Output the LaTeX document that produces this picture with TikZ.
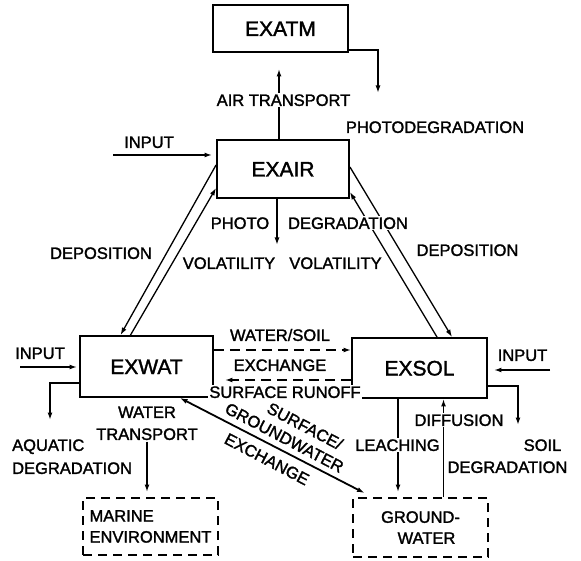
\documentclass[tikz,border=0pt]{standalone}
\usepackage{fontspec}
\setmainfont{Liberation Sans}[FakeBold=1.6]
\usetikzlibrary{arrows.meta}

\begin{document}
\begin{tikzpicture}[x=1pt,y=-1pt,
  box/.style={draw, line width=1.9pt, inner sep=0pt, anchor=center,
    font=\fontsize{21}{24}\selectfont, text height=15pt, text depth=0pt},
  dbox/.style={draw, line width=1.9pt, inner sep=0pt, anchor=center,
    dash pattern=on 9pt off 6pt, font=\fontsize{16.5}{21}\selectfont},
  lbl/.style={font=\fontsize{16.5}{19}\selectfont, inner sep=1.5pt,
    fill=white, text height=11.8pt, text depth=0pt},
  rlbl/.style={font=\fontsize{16.5}{19}\selectfont, inner sep=0pt,
    text height=11.8pt, text depth=0pt, rotate=-27.7},
  tip/.style={-{Latex[length=7.5pt,width=5pt]}},
  flow/.style={tip, line width=1.5pt},
  twin/.style={tip, line width=1.3pt},
  dflow/.style={tip, line width=1.7pt, dash pattern=on 10pt off 6pt},
]
\useasboundingbox (0,0) rectangle (581,561);

% compartments
\node[box, minimum width=135pt, minimum height=47pt] (exatm) at (280.5,28.5) {EXATM};
\node[box, minimum width=132pt, minimum height=58pt] (exair) at (283,169) {EXAIR};
\node[box, minimum width=133pt, minimum height=61pt] (exwat) at (146.5,366.5) {EXWAT};
\node[box, minimum width=135pt, minimum height=60pt] (exsol) at (419.5,368) {EXSOL};
\node[dbox, minimum width=135pt, minimum height=57pt, align=left] (marine) at (150.5,526.5)
  {\fontsize{16.5}{26}\selectfont MARINE\\ENVIRONMENT};
\node[dbox, minimum width=135pt, minimum height=59pt, align=center] (ground) at (420.5,527.5)
  {GROUND-\\\hspace*{12pt}WATER};

% free ends of the flows
\coordinate (pdatm) at (378,93);
\coordinate (inair) at (113,155);
\coordinate (pdair) at (277,245);
\coordinate (inwat) at (20,367);
\coordinate (aqdeg) at (50,420);
\coordinate (insol) at (550,370);
\coordinate (sdeg) at (518,425);

% air and atmosphere
\draw[flow, shorten >=16pt] ([xshift=-4pt]exair.north) -- ([xshift=-4pt]exair.north |- exatm.south);
\draw[flow] ([yshift=3pt]exatm.south east) -| (pdatm);
\draw[flow, shorten >=4pt] (inair) -- (inair -| exair.west);
\draw[flow] (exair.south -| pdair) -- (pdair);

% deposition / volatility pairs
\draw[twin] ([yshift=4pt]exair.west) -- ([xshift=-26pt]exwat.north);
\draw[twin] ([xshift=-16pt]exwat.north) -- ([yshift=-19pt]exair.west);
\draw[twin] ([yshift=2pt]exair.east) -- ([xshift=32.5pt]exsol.north);
\draw[twin] ([xshift=17.5pt]exsol.north) -- ([yshift=-23pt]exair.east);

% water compartment
\draw[flow, shorten >=2pt] (inwat) -- (inwat -| exwat.west);
\draw[flow] ([yshift=-16.5pt]exwat.west) -| (aqdeg);
\draw[dflow] ([yshift=16.5pt]exwat.east) -- ([yshift=16.5pt]exwat.east -| exsol.west);
\draw[dflow, shorten >=11pt] ([yshift=-12pt]exsol.west) -- ([yshift=-12pt]exsol.west -| exwat.east);
\draw[{Latex[length=7.5pt,width=5pt]}-{Latex[length=7.5pt,width=5pt]}, line width=1.8pt]
  ([xshift=33.5pt]exwat.south) -- ([xshift=-56pt,yshift=4pt]ground.north);

% soil compartment
\draw[flow, shorten >=6pt] (insol) -- (insol -| exsol.east);
\draw[flow] ([yshift=-18pt]exsol.east) -| (sdeg);
\draw[flow, shorten >=5pt] ([xshift=-21.5pt]exsol.south) -- ([xshift=-21.5pt]exsol.south |- ground.north);
\draw[flow] ([xshift=23pt]ground.north) -- ([xshift=23pt]ground.north |- exsol.south);

% flow labels
\node[lbl] (airt) at (283.5,100) {AIR TRANSPORT};
\node[lbl] (phatm) at (435,127) {PHOTODEGRADATION};
\node[lbl] (inA) at (149,142) {INPUT};
\node[lbl] (photo) at (240,223) {PHOTO};
\node[lbl] (degr) at (348,223) {DEGRADATION};
\node[lbl] (vol1) at (229,263) {VOLATILITY};
\node[lbl] (vol2) at (335.5,263) {VOLATILITY};
\node[lbl] (dep1) at (101,253) {DEPOSITION};
\node[lbl] (dep2) at (467.5,250) {DEPOSITION};
\node[lbl] (inW) at (40,353) {INPUT};
\node[lbl] (ws1) at (280,335) {WATER/SOIL};
\node[lbl] (ws2) at (280,365) {EXCHANGE};
\node[lbl] (sr) at (285,392) {SURFACE RUNOFF};
\node[lbl] (inS) at (522.5,355) {INPUT};
\node[lbl, anchor=west] (aq1) at (10.5,445) {AQUATIC};
\node[lbl, anchor=west] (aq2) at (10.5,468) {DEGRADATION};
\node[lbl] (wt1) at (147,412) {WATER};
\node[lbl] (wt2) at (147,434) {TRANSPORT};
\node[rlbl] (sg1) at (305,426) {SURFACE/};
\node[rlbl] (sg2) at (284.5,437.5) {GROUNDWATER};
\node[rlbl] (sg3) at (267,459) {EXCHANGE};
\node[lbl] (leach) at (397.5,445) {LEACHING};
\node[lbl] (diff) at (459,420) {DIFFUSION};
\node[lbl] (soil) at (542.5,445) {SOIL};
\node[lbl] (sdg) at (507.5,467) {DEGRADATION};

% marine transport runs from its label down to the sea
\draw[flow, shorten >=5pt] (wt2.south) -- (wt2.south |- marine.north);
\end{tikzpicture}
\end{document}
